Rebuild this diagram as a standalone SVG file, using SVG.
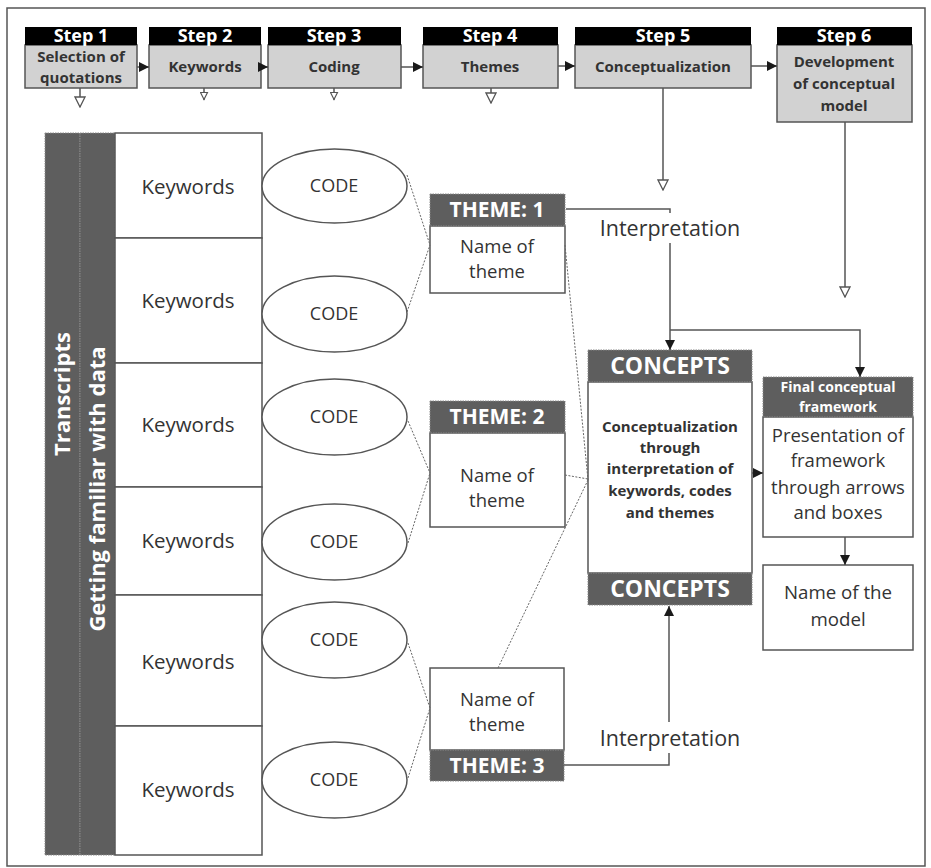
<svg xmlns="http://www.w3.org/2000/svg" width="931" height="868" viewBox="0 0 931 868">
<style>
text{font-family:"Open Sans","DejaVu Sans",sans-serif;fill:#333;text-anchor:middle}
.hd{fill:#fff;font-weight:bold}
.stp{font-weight:bold;font-size:15px;fill:#333}
.kw{font-size:20.5px}
.code{font-size:18px}
.nm{font-size:18.5px}
.box{fill:#fff;stroke:#555;stroke-width:1.5}
.gbox{fill:#d2d2d2;stroke:#555;stroke-width:1.5}
.blk{fill:#000}
.dark{fill:#5e5e5e;stroke:#888;stroke-width:1;stroke-dasharray:1.5,1}
.ln{fill:none;stroke:#555;stroke-width:1.5}
.dot{fill:none;stroke:#666;stroke-width:1;stroke-dasharray:2,1.5}
</style>
<defs>
<marker id="af" markerUnits="userSpaceOnUse" markerWidth="10" markerHeight="10" refX="10" refY="5" orient="auto" viewBox="0 0 10 10"><path d="M0,0 L10,5 L0,10 z" fill="#1a1a1a"/></marker>
<marker id="ah" markerUnits="userSpaceOnUse" markerWidth="12" markerHeight="12" refX="11" refY="6" orient="auto" viewBox="0 0 12 12"><path d="M1,1 L11,6 L1,11 z" fill="#fff" stroke="#555" stroke-width="1.3"/></marker>
<marker id="as" markerUnits="userSpaceOnUse" markerWidth="9" markerHeight="9" refX="8.5" refY="4.5" orient="auto" viewBox="0 0 9 9"><path d="M1,1 L8,4.5 L1,8 z" fill="#fff" stroke="#555" stroke-width="1.2"/></marker>
</defs>
<rect x="0" y="0" width="931" height="868" fill="#fff"/>
<rect x="7" y="8" width="918" height="858" fill="none" stroke="#555" stroke-width="1.5"/>

<g id="step1"><rect class="gbox" x="25" y="45" width="112" height="43"/><rect class="blk" x="25" y="27" width="112" height="18"/><text class="hd" x="81" y="42" font-size="18">Step 1</text><text class="stp" x="81" y="62">Selection of</text><text class="stp" x="81" y="83">quotations</text></g>
<g id="step2"><rect class="gbox" x="149" y="45" width="112" height="43"/><rect class="blk" x="149" y="27" width="112" height="18"/><text class="hd" x="205" y="42" font-size="18">Step 2</text><text class="stp" x="205" y="72">Keywords</text></g>
<g id="step3"><rect class="gbox" x="268" y="45" width="133" height="43"/><rect class="blk" x="268" y="27" width="133" height="18"/><text class="hd" x="334" y="42" font-size="18">Step 3</text><text class="stp" x="334" y="72">Coding</text></g>
<g id="step4"><rect class="gbox" x="423" y="45" width="135" height="43"/><rect class="blk" x="423" y="27" width="135" height="18"/><text class="hd" x="490" y="42" font-size="18">Step 4</text><text class="stp" x="490" y="72">Themes</text></g>
<g id="step5"><rect class="gbox" x="575" y="45" width="176" height="43"/><rect class="blk" x="575" y="27" width="176" height="18"/><text class="hd" x="663" y="42" font-size="18">Step 5</text><text class="stp" x="663" y="72">Conceptualization</text></g>
<g id="step6"><rect class="gbox" x="777" y="45" width="135" height="77"/><rect class="blk" x="777" y="27" width="135" height="18"/><text class="hd" x="844" y="42" font-size="18">Step 6</text><text class="stp" x="844" y="67">Development</text><text class="stp" x="844" y="89">of conceptual</text><text class="stp" x="844" y="111">model</text></g>

<g id="transcripts"><rect class="dark" x="45" y="133" width="35" height="722"/><text class="hd" font-size="22" transform="translate(70,394) rotate(-90)">Transcripts</text></g>
<g id="familiar"><rect class="dark" x="80" y="133" width="35" height="722"/><text class="hd" font-size="22" transform="translate(105,489) rotate(-90)">Getting familiar with data</text></g>

<g id="keywords">
<rect class="box" x="115" y="133" width="147" height="105"/><text class="kw" x="188" y="194">Keywords</text>
<rect class="box" x="115" y="238" width="147" height="125"/><text class="kw" x="188" y="308">Keywords</text>
<rect class="box" x="115" y="363" width="147" height="124"/><text class="kw" x="188" y="432">Keywords</text>
<rect class="box" x="115" y="487" width="147" height="108"/><text class="kw" x="188" y="548">Keywords</text>
<rect class="box" x="115" y="595" width="147" height="131"/><text class="kw" x="188" y="669">Keywords</text>
<rect class="box" x="115" y="726" width="147" height="129"/><text class="kw" x="188" y="797">Keywords</text>
</g>

<g id="codes">
<ellipse class="box" cx="334.5" cy="186" rx="72.5" ry="37"/><text class="code" x="334" y="192">CODE</text>
<ellipse class="box" cx="334.5" cy="314" rx="72.5" ry="38"/><text class="code" x="334" y="320">CODE</text>
<ellipse class="box" cx="334.5" cy="417" rx="72.5" ry="38"/><text class="code" x="334" y="423">CODE</text>
<ellipse class="box" cx="334.5" cy="542" rx="72.5" ry="38"/><text class="code" x="334" y="548">CODE</text>
<ellipse class="box" cx="334.5" cy="640" rx="72.5" ry="38"/><text class="code" x="334" y="646">CODE</text>
<ellipse class="box" cx="334.5" cy="780" rx="72.5" ry="38"/><text class="code" x="334" y="786">CODE</text>
</g>

<g id="theme1"><rect class="box" x="430" y="226" width="135" height="67"/><rect class="dark" x="430" y="194" width="135" height="32"/><text class="hd" x="497" y="217" font-size="21">THEME: 1</text><text class="nm" x="497" y="253">Name of</text><text class="nm" x="497" y="278">theme</text></g>
<g id="theme2"><rect class="box" x="430" y="433" width="135" height="94"/><rect class="dark" x="430" y="401" width="135" height="32"/><text class="hd" x="497" y="424" font-size="21">THEME: 2</text><text class="nm" x="497" y="482">Name of</text><text class="nm" x="497" y="507">theme</text></g>
<g id="theme3"><rect class="box" x="430" y="668" width="134" height="82"/><rect class="dark" x="430" y="750" width="134" height="31"/><text class="hd" x="497" y="773" font-size="21">THEME: 3</text><text class="nm" x="497" y="706">Name of</text><text class="nm" x="497" y="731">theme</text></g>

<g id="concepts"><rect class="box" x="588" y="382" width="164" height="191"/><rect class="dark" x="588" y="350" width="164" height="32"/><rect class="dark" x="588" y="573" width="164" height="32"/><text class="hd" x="670" y="374" font-size="23">CONCEPTS</text><text class="hd" x="670" y="597" font-size="23">CONCEPTS</text>
<g font-weight="bold" font-size="15"><text x="670" y="432">Conceptualization</text><text x="670" y="453">through</text><text x="670" y="474">interpretation of</text><text x="670" y="496">keywords, codes</text><text x="670" y="518">and themes</text></g></g>

<g id="final"><rect class="box" x="763" y="417" width="150" height="120"/><rect class="dark" x="763" y="377" width="150" height="40"/><text class="hd" x="838" y="392" font-size="14">Final conceptual</text><text class="hd" x="838" y="412" font-size="14">framework</text>
<g font-size="18.5"><text x="838" y="442">Presentation of</text><text x="838" y="467">framework</text><text x="838" y="494">through arrows</text><text x="838" y="519">and boxes</text></g></g>
<g id="model"><rect class="box" x="763" y="565" width="150" height="85"/><text x="838" y="599" font-size="18.7">Name of the</text><text x="838" y="626" font-size="18.7">model</text></g>

<g id="interp-labels"><text x="670" y="236" font-size="21.5">Interpretation</text><text x="670" y="746" font-size="21.5">Interpretation</text></g>

<g id="connectors">
<line class="ln" x1="137" y1="67" x2="149" y2="67" marker-end="url(#af)"/>
<line class="ln" x1="261" y1="67" x2="268" y2="67" marker-end="url(#af)"/>
<line class="ln" x1="401" y1="67" x2="423" y2="67" marker-end="url(#af)"/>
<line class="ln" x1="558" y1="66" x2="575" y2="66" marker-end="url(#af)"/>
<line class="ln" x1="751" y1="66" x2="777" y2="66" marker-end="url(#af)"/>
<line class="ln" x1="80" y1="88" x2="80" y2="107" marker-end="url(#ah)"/>
<line class="ln" x1="204" y1="88" x2="204" y2="100" marker-end="url(#as)"/>
<line class="ln" x1="334" y1="88" x2="334" y2="100" marker-end="url(#as)"/>
<line class="ln" x1="491" y1="88" x2="491" y2="103" marker-end="url(#ah)"/>
<line class="ln" x1="663" y1="88" x2="663" y2="190" marker-end="url(#ah)"/>
<line class="ln" x1="845" y1="122" x2="845" y2="297" marker-end="url(#ah)"/>
<polyline class="ln" points="566,209 670,209 670,213"/>
<line class="ln" x1="670" y1="243" x2="670" y2="350" marker-end="url(#af)"/>
<polyline class="ln" points="670,330 860,330 860,377" marker-end="url(#af)"/>
<line class="ln" x1="669" y1="722" x2="669" y2="606" marker-end="url(#af)"/>
<polyline class="ln" points="669,753 669,765 564,765"/>
<line class="ln" x1="752" y1="473" x2="763" y2="473" marker-end="url(#af)"/>
<line class="ln" x1="845" y1="537" x2="845" y2="565" marker-end="url(#af)"/>
<line class="dot" x1="407" y1="175" x2="430" y2="245"/>
<line class="dot" x1="407" y1="312" x2="430" y2="245"/>
<line class="dot" x1="408" y1="421" x2="430" y2="473"/>
<line class="dot" x1="408" y1="543" x2="430" y2="473"/>
<line class="dot" x1="408" y1="643" x2="430" y2="708"/>
<line class="dot" x1="408" y1="778" x2="430" y2="708"/>
<line class="dot" x1="565" y1="245" x2="588" y2="480"/>
<line class="dot" x1="565" y1="475" x2="588" y2="479"/>
<line class="dot" x1="498" y1="668" x2="588" y2="480"/>
</g>
</svg>
